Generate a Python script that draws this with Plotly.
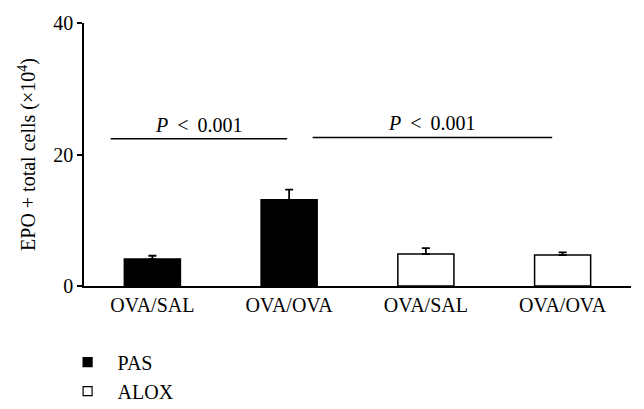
import plotly.graph_objects as go

categories = ["OVA/SAL", "OVA/OVA", "OVA/SAL", "OVA/OVA"]
positions = [0, 1, 2, 3]
groups = ["PAS", "PAS", "ALOX", "ALOX"]
means = [4.1, 13.1, 4.85, 4.7]
errors = [0.5, 1.55, 0.9, 0.4]
group_names = ["PAS", "ALOX"]
group_fill = {"PAS": "black", "ALOX": "white"}
y_ticks = [0, 20, 40]
# comparisons: (x start, x end, y level, label)
comparisons = [(-0.305, 0.986, 22.4, "<i>P</i> < 0.001"),
               (1.172, 2.924, 22.6, "<i>P</i> < 0.001")]

FONT = "Liberation Serif, Times New Roman, serif"
FS = 20

fig = go.Figure()
for g in group_names:
    idx = [i for i, gg in enumerate(groups) if gg == g]
    fig.add_trace(go.Bar(
        x=[positions[i] for i in idx],
        y=[means[i] for i in idx],
        width=0.41,
        marker=dict(color=group_fill[g], line=dict(color="black", width=1.5)),
        error_y=dict(type="data", symmetric=False,
                     array=[errors[i] for i in idx],
                     arrayminus=[0 for _ in idx],
                     color="black", thickness=1.8, width=4),
        showlegend=False,
    ))
    fig.add_trace(go.Scatter(
        x=[None], y=[None], mode="markers", name="\u2002" + g,
        marker=dict(symbol="square", size=9, color=group_fill[g],
                    line=dict(color="black", width=1.2)),
    ))

for x0, x1, yv, lab in comparisons:
    fig.add_shape(type="line", x0=x0, x1=x1, y0=yv, y1=yv, xref="x", yref="y",
                  line=dict(color="black", width=1.5))
    fig.add_annotation(x=(x0 + x1) / 2, y=yv, xref="x", yref="y",
                       text=lab.replace(" < ", "\u2009 < \u2009"),
                       showarrow=False, yanchor="bottom", yshift=1,
                       font=dict(size=FS, color="black", family=FONT))

fig.update_layout(
    width=644, height=409,
    margin=dict(l=76, r=21, t=15, b=131, autoexpand=False),
    plot_bgcolor="white", paper_bgcolor="white",
    font=dict(family=FONT, size=FS, color="black"),
    bargap=0.5,
    legend=dict(x=-0.03, xanchor="left", y=-0.215, yanchor="top",
                font=dict(size=FS), tracegroupgap=0, itemsizing="trace",
                bgcolor="rgba(0,0,0,0)"),
    xaxis=dict(range=[-0.5, 3.5], tickvals=positions, ticktext=categories,
               showgrid=False, zeroline=False, showline=True, automargin=False,
               linecolor="black", linewidth=1.5, ticks="", ticklen=0,
               tickfont=dict(size=FS)),
    yaxis=dict(range=[0, 40], tickvals=y_ticks, showgrid=False, zeroline=False,
               showline=True, linecolor="black", linewidth=1.5, automargin=False,
               ticks="outside", ticklen=5, tickwidth=1.5, tickcolor="black",
               tickfont=dict(size=FS),
               title=dict(text="EPO + total cells (×10<sup>4</sup>)",
                          font=dict(size=FS), standoff=12)),
)

fig.write_html("out.html")
